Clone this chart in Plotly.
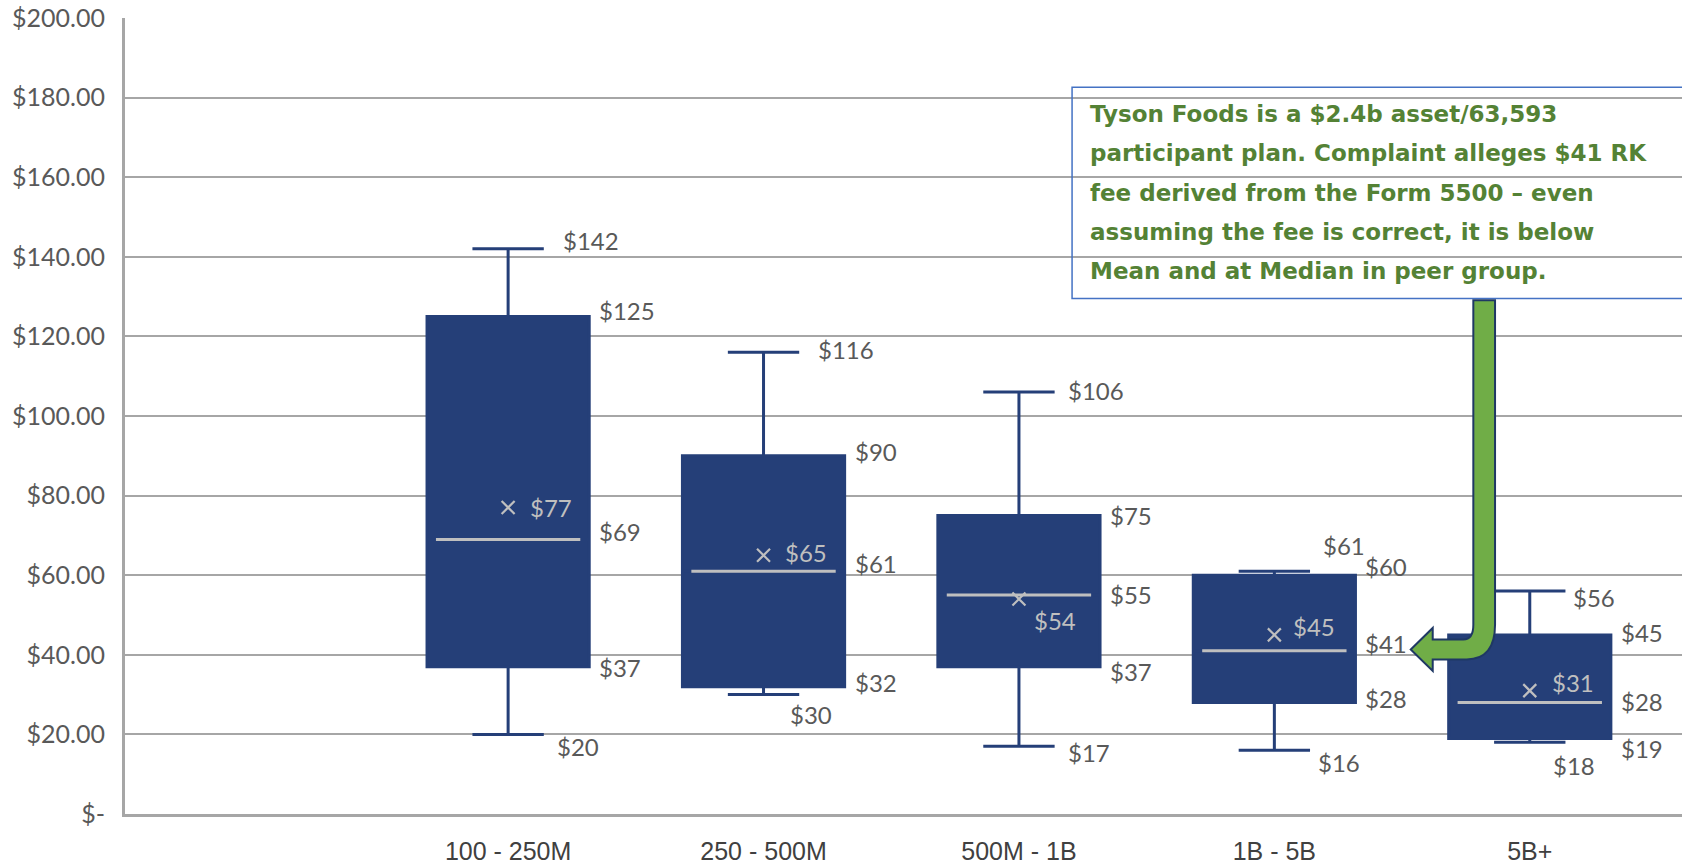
import plotly.graph_objects as go

# Recordkeeping fee per participant, by plan asset size
categories = ["100 - 250M", "250 - 500M", "500M - 1B", "1B - 5B", "5B+"]
max_fee = [142, 116, 106, 61, 56]
q3_fee = [125, 90, 75, 60, 45]
median_fee = [69, 61, 55, 41, 28]
mean_fee = [77, 65, 54, 45, 31]
q1_fee = [37, 32, 37, 28, 19]
min_fee = [20, 30, 17, 16, 18]

y_tick_values = [0, 20, 40, 60, 80, 100, 120, 140, 160, 180, 200]
y_tick_labels = ["$-", "$20.00", "$40.00", "$60.00", "$80.00", "$100.00",
                 "$120.00", "$140.00", "$160.00", "$180.00", "$200.00"]

callout_lines = [
    "Tyson Foods is a $2.4b asset/63,593",
    "participant plan. Complaint alleges $41 RK",
    "fee derived from the Form 5500 \u2013 even",
    "assuming the fee is correct, it is below",
    "Mean and at Median in peer group.",
]

# ---- styling ----
NAVY = "#253F78"
LIGHT = "#BFBFBF"
LABEL_GREY = "#595959"
GRID = "#A6A6A6"
GREEN_TEXT = "#548235"
ARROW_FILL = "#70AD47"
ARROW_LINE = "#1F3864"
LABEL_FONT = dict(family="Lato, Noto Sans, sans-serif", size=24, color=LABEL_GREY)
MEAN_FONT = dict(family="Lato, Noto Sans, sans-serif", size=24, color=LIGHT)

BOX_W = 0.635
WHISKER_W = 0.44
BOX_HALF = BOX_W / 2
CAP_HALF = BOX_W * WHISKER_W / 2
MEDIAN_HALF = BOX_HALF * 0.89

# pixel nudges for the data labels, one per box
NUDGE = {
    "max_dx": [17, 17, 11, 11, 6], "max_dy": [8, 3, 2, 26, -6],
    "q3_dy": [6, 4, 0, 9, 2], "med_dy": [8, 8, 1, 7, 1], "q1_dy": [-1, 4, -5, 4, -10],
    "min_dx": [11, -11, 11, 6, -14], "min_dy": [-12, -20, -6, -12, -23],
    "mean_dx": [20, 19, 13, 17, 20], "mean_dy": [0, 3, -21, 8, 8],
}

positions = list(range(1, len(categories) + 1))

fig = go.Figure()

fig.add_trace(go.Box(
    x=positions, q1=q1_fee, median=median_fee, q3=q3_fee,
    lowerfence=min_fee, upperfence=max_fee,
    width=BOX_W, whiskerwidth=WHISKER_W,
    fillcolor=NAVY, line=dict(color=NAVY, width=3),
    boxpoints=False, hoverinfo="skip", showlegend=False,
))

# median bars in light grey across each box
med_x, med_y = [], []
for p, m in zip(positions, median_fee):
    med_x += [p - MEDIAN_HALF, p + MEDIAN_HALF, None]
    med_y += [m, m, None]
fig.add_trace(go.Scatter(
    x=med_x, y=med_y, mode="lines", line=dict(color=LIGHT, width=3),
    hoverinfo="skip", showlegend=False,
))

# mean markers
fig.add_trace(go.Scatter(
    x=positions, y=mean_fee, mode="markers",
    marker=dict(symbol="x-thin", size=13, line=dict(color=LIGHT, width=2.2)),
    hoverinfo="skip", showlegend=False,
))

annotations = []
for i, p in enumerate(positions):
    def lab(x, y, text, dx, dy, font=LABEL_FONT):
        annotations.append(dict(
            x=x, y=y, xref="x", yref="y", text=text, showarrow=False,
            xanchor="left", yanchor="middle", xshift=dx, yshift=dy, font=font,
        ))
    lab(p + CAP_HALF, max_fee[i], f"${max_fee[i]}", NUDGE["max_dx"][i], NUDGE["max_dy"][i])
    lab(p + BOX_HALF, q3_fee[i], f"${q3_fee[i]}", 8, NUDGE["q3_dy"][i])
    lab(p + BOX_HALF, median_fee[i], f"${median_fee[i]}", 8, NUDGE["med_dy"][i])
    lab(p + BOX_HALF, q1_fee[i], f"${q1_fee[i]}", 8, NUDGE["q1_dy"][i])
    lab(p + CAP_HALF, min_fee[i], f"${min_fee[i]}", NUDGE["min_dx"][i], NUDGE["min_dy"][i])
    lab(p, mean_fee[i], f"${mean_fee[i]}", NUDGE["mean_dx"][i], NUDGE["mean_dy"][i], MEAN_FONT)

# callout text, one annotation per line
line_top, line_step = 175.8, 9.83
for k, line in enumerate(callout_lines):
    annotations.append(dict(
        x=3.27, y=line_top - k * line_step, xref="x", yref="y",
        text=f"<b>{line}</b>", showarrow=False, xanchor="left", yanchor="middle",
        font=dict(family="DejaVu Sans, sans-serif", size=23, color=GREEN_TEXT),
    ))

# bent arrow from the callout down to the 1B - 5B median label
tip_y = median_fee[3] + 0.35
sx0, sx1 = 4.779, 4.864
head_back, tip_x = 4.620, 4.534
top_y = 129.1
arrow_path = (
    f"M {sx0},{top_y} L {sx0},{tip_y + 6.2} "
    f"Q {sx0},{tip_y + 2.5} {sx0 - 0.039},{tip_y + 2.5} "
    f"L {head_back},{tip_y + 2.5} L {head_back},{tip_y + 5.4} "
    f"L {tip_x},{tip_y} "
    f"L {head_back},{tip_y - 5.4} L {head_back},{tip_y - 2.5} "
    f"L {sx1 - 0.111},{tip_y - 2.5} "
    f"Q {sx1},{tip_y - 2.5} {sx1},{tip_y + 6.2} "
    f"L {sx1},{top_y} Z"
)

shapes = [
    dict(type="rect", xref="x", yref="y", x0=3.208, x1=5.8, y0=129.5, y1=182.6,
         line=dict(color="#4472C4", width=1.5), fillcolor="rgba(0,0,0,0)", layer="above"),
    dict(type="path", xref="x", yref="y", path=arrow_path,
         fillcolor=ARROW_FILL, line=dict(color=ARROW_LINE, width=2), layer="above"),
]

fig.update_layout(
    width=1682, height=865,
    margin=dict(l=125, r=0, t=18, b=44),
    paper_bgcolor="white", plot_bgcolor="white",
    showlegend=False,
    annotations=annotations,
    shapes=shapes,
    xaxis=dict(
        range=[-0.5, 5.596], tickvals=positions, ticktext=categories,
        showgrid=False, zeroline=False, showline=True, linecolor=GRID, linewidth=3,
        ticks="", ticklabelstandoff=13,
        tickfont=dict(family="Liberation Sans, Arial, sans-serif", size=25, color="#404040"),
    ),
    yaxis=dict(
        range=[0, 200], tickvals=y_tick_values, ticktext=y_tick_labels,
        showgrid=True, gridcolor=GRID, gridwidth=2, zeroline=False,
        showline=True, linecolor=GRID, linewidth=3, ticks="", ticklabelstandoff=12,
        tickfont=dict(family="Lato, Noto Sans, sans-serif", size=25, color=LABEL_GREY),
    ),
)

fig.write_html("out.html")
